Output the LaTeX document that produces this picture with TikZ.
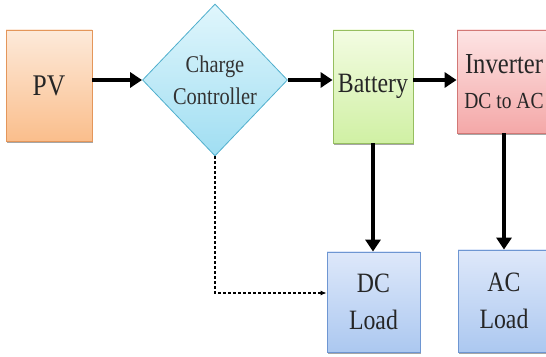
\documentclass[tikz,border=0pt]{standalone}
\usepackage{fontspec}
\setmainfont{Liberation Serif}[FakeStretch=0.85]
\usetikzlibrary{shapes.geometric,arrows.meta,shadows}
\definecolor{pvtop}{RGB}{253,234,218}
\definecolor{pvbot}{RGB}{250,190,140}
\definecolor{pvedge}{RGB}{228,150,90}
\definecolor{cctop}{RGB}{224,246,252}
\definecolor{ccbot}{RGB}{160,222,242}
\definecolor{ccedge}{RGB}{80,175,205}
\definecolor{battop}{RGB}{243,252,226}
\definecolor{batbot}{RGB}{208,240,164}
\definecolor{batedge}{RGB}{150,190,95}
\definecolor{invtop}{RGB}{253,228,228}
\definecolor{invbot}{RGB}{244,168,168}
\definecolor{invedge}{RGB}{210,120,118}
\definecolor{ldtop}{RGB}{222,232,250}
\definecolor{ldbot}{RGB}{172,200,240}
\definecolor{ldedge}{RGB}{110,150,210}

\begin{document}
\begin{tikzpicture}[x=1pt,y=1pt,
    box/.style={draw, line width=0.8pt, inner sep=0pt, align=center,
        text=black!85, font=\fontsize{28}{37}\selectfont,
        drop shadow={shadow xshift=0.5pt, shadow yshift=-2pt, opacity=0.7}},
    flow/.style={line width=4.5pt, -{Triangle[length=12pt,width=15pt]}},
    ctrl/.style={line width=1.1pt, dash pattern=on 3pt off 2pt, -{Latex[length=6pt,width=5pt]}}]
    \useasboundingbox (0,0) rectangle (546,356);
    \clip (0,0) rectangle (546,356);
    % top row
    \node[box, top color=pvtop, bottom color=pvbot, draw=pvedge,
        font=\fontsize{30}{36}\selectfont,
        minimum width=86, minimum height=111] (pv) at (49,270.5) {PV};
    \node[diamond, draw=ccedge, line width=0.8pt, inner sep=0pt, align=center,
        top color=cctop, bottom color=ccbot, text=black!80,
        minimum width=145, minimum height=152,
        font=\fontsize{24}{32}\selectfont] (cc) at (215,276) {Charge\\Controller};
    \node[box, top color=battop, bottom color=batbot, draw=batedge,
        minimum width=80, minimum height=113] (bat) at (373,269.5) {Battery};
    \node[box, top color=invtop, bottom color=invbot, draw=invedge,
        font=\fontsize{29}{35}\selectfont,
        minimum width=94, minimum height=103] (inv) at (504,274.5)
        {Inverter\\{\fontsize{23}{35}\selectfont DC to AC}};
    % loads
    \node[box, top color=ldtop, bottom color=ldbot, draw=ldedge,
        minimum width=93, minimum height=100] (dcl) at (373.5,54) {DC\\Load};
    \node[box, top color=ldtop, bottom color=ldbot, draw=ldedge,
        minimum width=92, minimum height=102] (acl) at (504,55) {AC\\Load};
    % power flow
    \draw[flow] (pv.east |- cc) -- (cc.west);
    \draw[flow] (cc.east) -- (bat.west |- cc);
    \draw[flow] (bat.east |- cc) -- (inv.west |- cc);
    \draw[flow] (bat.south) -- (bat.south |- dcl.north);
    \draw[flow] (inv.south) -- (inv.south |- acl.north);
    % control line
    \draw[ctrl] (cc.south) |- ([yshift=9pt]dcl.west);
\end{tikzpicture}
\end{document}
